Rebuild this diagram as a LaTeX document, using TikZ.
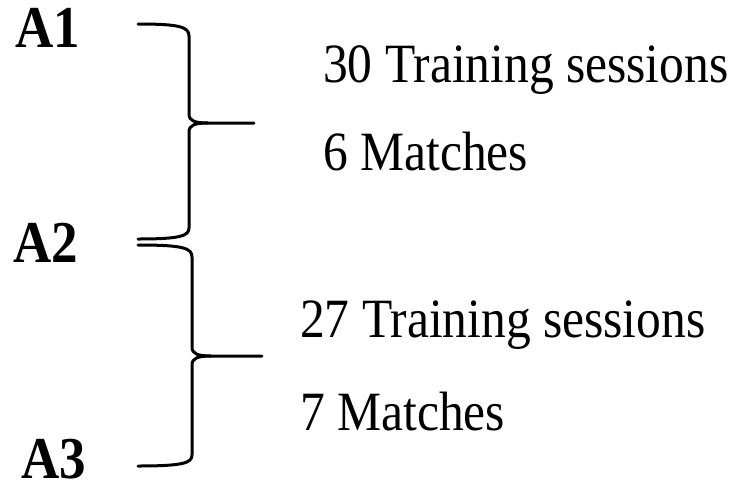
\documentclass[tikz,border=0pt]{standalone}
\usepackage{fontspec}
\setmainfont{Liberation Serif}
\begin{document}
\begin{tikzpicture}[x=1pt,y=-1pt,
  lbl/.style={anchor=base west,inner sep=0pt,yscale=1.12,font=\fontsize{53}{60}\selectfont\bfseries},
  txt/.style={anchor=base west,inner sep=0pt,yscale=1.12,font=\fontsize{49.5}{58}\selectfont},
  brace/.style={line width=3pt,line cap=round,line join=round}]
\useasboundingbox (0,0) rectangle (732,483);

% stage labels
\node[lbl] (a1) at (15,47) {A1};
\node[lbl] (a2) at (13,262) {A2};
\node[lbl] (a3) at (21,478) {A3};

% descriptions
\node[txt] (t1) at (323,82) {30 Training sessions};
\node[txt] (m1) at (323,170) {6 Matches};
\node[txt] (t2) at (300,337) {27 Training sessions};
\node[txt] (m2) at (300,430) {7 Matches};

% brace end points and tips
\coordinate (b1top) at (138,24);
\coordinate (b1bot) at (138,239);
\coordinate (b1tip) at (254,123);
\coordinate (b2top) at (138,245);
\coordinate (b2bot) at (138,466);
\coordinate (b2tip) at (262,356);

% first brace (A1 to A2)
\draw[brace] (b1top) .. controls (180,24) and (189,27) .. (189,36)
  -- (189,114) .. controls (189,121) and (195,123) .. (208,123) -- (b1tip);
\draw[brace] (208,123) .. controls (195,123) and (189,125) .. (189,132)
  -- (189,228) .. controls (189,236) and (180,239) .. (b1bot);

% second brace (A2 to A3)
\draw[brace] (b2top) .. controls (183,245) and (192,248) .. (192,257)
  -- (192,347) .. controls (192,354) and (198,356) .. (211,356) -- (b2tip);
\draw[brace] (211,356) .. controls (198,356) and (192,358) .. (192,365)
  -- (192,455) .. controls (192,463) and (183,466) .. (b2bot);
\end{tikzpicture}
\end{document}
